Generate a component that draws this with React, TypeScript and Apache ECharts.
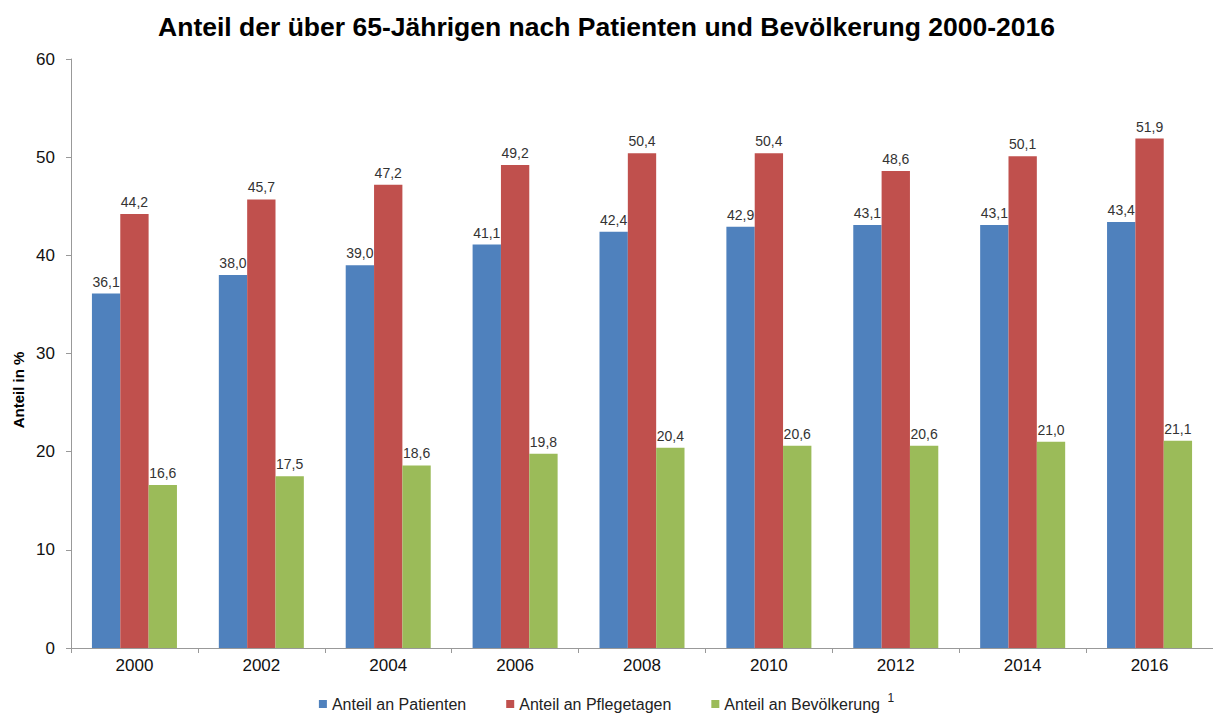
import React, { useEffect, useRef } from "react";
import * as echarts from "echarts";

const categories = ["2000", "2002", "2004", "2006", "2008", "2010", "2012", "2014", "2016"];
const patienten = [36.1, 38.0, 39.0, 41.1, 42.4, 42.9, 43.1, 43.1, 43.4];
const pflegetage = [44.2, 45.7, 47.2, 49.2, 50.4, 50.4, 48.6, 50.1, 51.9];
const bevoelkerung = [16.6, 17.5, 18.6, 19.8, 20.4, 20.6, 20.6, 21.0, 21.1];
const seriesNames = ["Anteil an Patienten", "Anteil an Pflegetagen", "Anteil an Bevölkerung"];
const colors = ["#4F81BD", "#C0504D", "#9BBB59"];

const FONT = "Liberation Sans, Arial, sans-serif";

export default function App() {
  const ref = useRef<HTMLDivElement>(null);
  useEffect(() => {
    if (!ref.current) return;
    const chart = echarts.init(ref.current, null, { renderer: "svg" });
    const label = {
      show: true,
      position: "top" as const,
      distance: 5,
      color: "#333",
      fontSize: 14,
      fontFamily: FONT,
      formatter: (p: any) => Number(p.value).toFixed(1).replace(".", ","),
    };
    const mk = (name: string, data: number[], color: string) => ({
      name,
      type: "bar",
      data,
      itemStyle: { color },
      label,
      barGap: "0%",
      barCategoryGap: "33%",
    });
    chart.setOption({
      animation: false,
      textStyle: { fontFamily: FONT },
      title: {
        text: "Anteil der über 65-Jährigen nach Patienten und Bevölkerung 2000-2016",
        left: "center",
        top: 8,
        textStyle: { fontSize: 26.5, fontWeight: "bold", color: "#000", fontFamily: FONT },
      },
      graphic: [
        {
          type: "text",
          x: 18,
          y: 390,
          rotation: Math.PI / 2,
          style: {
            text: "Anteil in %",
            fontSize: 15,
            fontWeight: "bold",
            fill: "#000",
            fontFamily: FONT,
            align: "center",
            verticalAlign: "middle",
          },
        },
      ],
      legend: {
        bottom: 0,
        left: "center",
        itemWidth: 8,
        itemHeight: 8,
        itemGap: 40,
        icon: "rect",
        textStyle: {
          fontSize: 16,
          color: "#222",
          fontFamily: FONT,
          rich: { sup: { fontSize: 12, verticalAlign: "top", padding: [0, 0, 12, 3], color: "#222" } },
        },
        formatter: (n: string) => (n === "Anteil an Bevölkerung" ? n + " {sup|1}" : n),
      },
      grid: { left: 71, right: 0, top: 59, bottom: 69, containLabel: false },
      xAxis: {
        type: "category",
        data: categories,
        axisLine: { lineStyle: { color: "#999" } },
        axisTick: { show: true, length: 5, lineStyle: { color: "#999" } },
        axisLabel: { fontSize: 17, color: "#111", margin: 9, fontFamily: FONT },
      },
      yAxis: {
        type: "value",
        min: 0,
        max: 60,
        interval: 10,
        axisLine: { show: true, lineStyle: { color: "#999" } },
        axisTick: { show: true, length: 5, lineStyle: { color: "#999" } },
        splitLine: { show: false },
        axisLabel: { fontSize: 17, color: "#111", margin: 16, fontFamily: FONT },
      },
      series: [
        mk(seriesNames[0], patienten, colors[0]),
        mk(seriesNames[1], pflegetage, colors[1]),
        mk(seriesNames[2], bevoelkerung, colors[2]),
      ],
    });
    return () => chart.dispose();
  }, []);
  return (
    <div
      ref={ref}
      style={{ position: "fixed", left: 0, top: 0, width: 1213, height: 717, background: "#fff" }}
    />
  );
}
